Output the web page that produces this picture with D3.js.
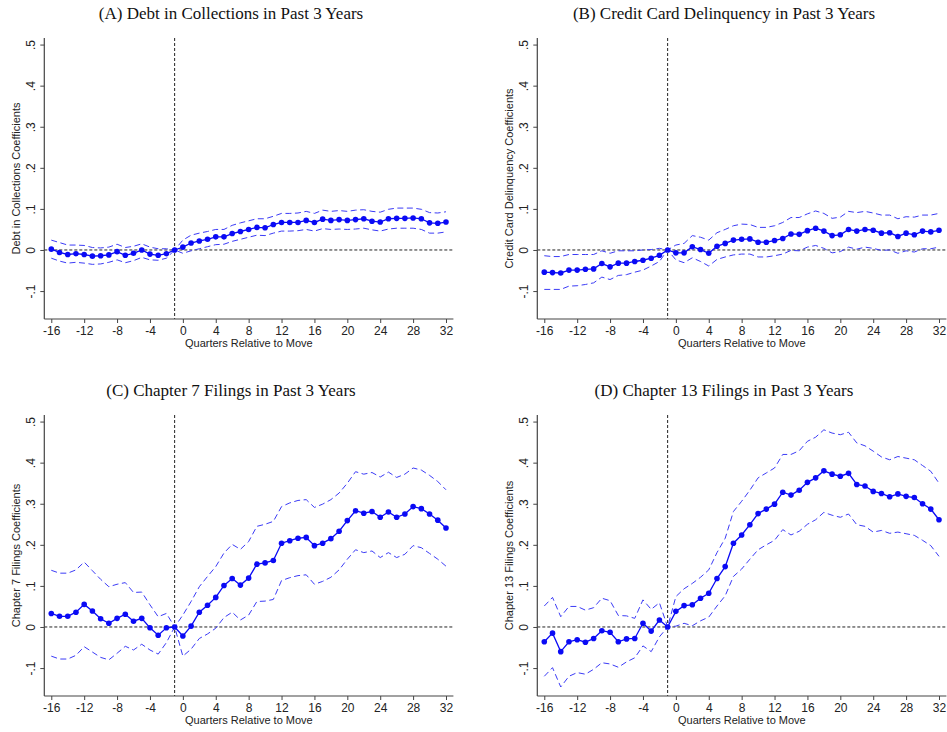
<!DOCTYPE html>
<html>
<head>
<meta charset="utf-8">
<script src="https://cdn.jsdelivr.net/npm/d3@7"></script>
<style>
  html, body { margin: 0; padding: 0; background: #fff; }
  svg { display: block; }
  .title { font-family: "Liberation Serif", "DejaVu Serif", serif; font-size: 17px; fill: #111; }
  .tick text, .axis-label { font-family: "Liberation Sans", Arial, sans-serif; fill: #222; }
</style>
</head>
<body>
<svg id="chart" width="947" height="732"></svg>
<script>
// Event-study quarters relative to the move
const quarters = d3.range(-16, 33);
const xTicks = d3.range(-16, 33, 4);
const yTicks = [-0.1, 0, 0.1, 0.2, 0.3, 0.4, 0.5];

// (A) Debt in collections
const collCoef = [0.002,-0.006,-0.011,-0.009,-0.011,-0.015,-0.014,-0.012,-0.004,-0.013,-0.008,0.000,-0.010,-0.013,-0.009,0,
  0.007,0.017,0.022,0.026,0.032,0.032,0.040,0.045,0.050,0.055,0.054,0.062,0.067,0.067,0.067,0.072,0.067,0.075,0.072,0.074,
  0.072,0.074,0.076,0.070,0.068,0.076,0.077,0.077,0.078,0.076,0.066,0.065,0.068];
const collHi = [0.024,0.018,0.012,0.012,0.011,0.006,0.005,0.007,0.014,0.006,0.009,0.015,0.007,0.003,0.003,0,
  0.024,0.036,0.041,0.045,0.050,0.050,0.060,0.066,0.071,0.076,0.076,0.082,0.089,0.089,0.090,0.094,0.089,0.097,0.094,0.096,
  0.094,0.097,0.098,0.094,0.092,0.099,0.102,0.102,0.102,0.099,0.091,0.090,0.093];
const collLo = [-0.020,-0.027,-0.032,-0.030,-0.032,-0.035,-0.034,-0.030,-0.024,-0.031,-0.026,-0.018,-0.024,-0.025,-0.020,0,
  -0.008,-0.002,0.003,0.008,0.013,0.014,0.021,0.026,0.031,0.036,0.035,0.041,0.046,0.046,0.047,0.050,0.046,0.052,0.050,0.051,
  0.050,0.051,0.053,0.049,0.046,0.051,0.053,0.053,0.053,0.050,0.041,0.041,0.044];

// (B) Credit card delinquency
const ccCoef = [-0.054,-0.055,-0.056,-0.049,-0.049,-0.047,-0.046,-0.033,-0.041,-0.032,-0.032,-0.028,-0.025,-0.020,-0.013,0,
  -0.007,-0.007,0.008,0.001,-0.008,0.009,0.016,0.024,0.026,0.027,0.019,0.019,0.023,0.028,0.039,0.038,0.047,0.053,0.046,0.035,
  0.037,0.050,0.046,0.050,0.048,0.041,0.042,0.033,0.041,0.037,0.046,0.044,0.048];
const ccHi = [-0.014,-0.016,-0.016,-0.011,-0.011,-0.011,-0.011,-0.002,-0.008,-0.002,-0.002,-0.002,0.000,0.001,0.004,0,
  0.012,0.016,0.035,0.031,0.024,0.042,0.050,0.059,0.063,0.062,0.055,0.055,0.059,0.067,0.079,0.079,0.088,0.095,0.089,0.077,
  0.080,0.094,0.091,0.094,0.090,0.085,0.085,0.076,0.081,0.080,0.085,0.085,0.089];
const ccLo = [-0.096,-0.096,-0.096,-0.088,-0.087,-0.084,-0.080,-0.066,-0.072,-0.062,-0.060,-0.054,-0.049,-0.039,-0.028,0,
  -0.024,-0.031,-0.019,-0.028,-0.039,-0.023,-0.017,-0.012,-0.010,-0.010,-0.017,-0.017,-0.014,-0.010,-0.001,-0.002,0.007,0.011,0.004,-0.007,
  -0.004,0.007,0.002,0.007,0.004,-0.001,0.000,-0.008,-0.002,-0.005,0.003,0.003,0.007];

// (C) Chapter 7 filings
const ch7Coef = [0.033,0.026,0.026,0.036,0.055,0.039,0.020,0.009,0.021,0.031,0.014,0.021,-0.002,-0.020,-0.002,0,
  -0.022,0.002,0.036,0.053,0.072,0.101,0.118,0.102,0.119,0.153,0.156,0.162,0.204,0.210,0.216,0.218,0.198,0.204,0.215,0.233,
  0.259,0.283,0.277,0.281,0.267,0.280,0.267,0.275,0.293,0.288,0.275,0.260,0.241];
const ch7Hi = [0.138,0.131,0.131,0.139,0.158,0.137,0.116,0.098,0.104,0.108,0.084,0.085,0.054,0.025,0.033,0,
  0.029,0.062,0.098,0.123,0.147,0.180,0.201,0.189,0.208,0.245,0.250,0.257,0.293,0.302,0.308,0.310,0.291,0.299,0.310,0.326,
  0.350,0.378,0.372,0.376,0.365,0.377,0.364,0.372,0.387,0.382,0.369,0.354,0.334];
const ch7Lo = [-0.071,-0.078,-0.078,-0.069,-0.048,-0.061,-0.074,-0.080,-0.064,-0.047,-0.056,-0.042,-0.056,-0.066,-0.038,0,
  -0.071,-0.054,-0.028,-0.017,-0.003,0.023,0.036,0.017,0.029,0.062,0.063,0.067,0.113,0.120,0.125,0.127,0.104,0.111,0.121,0.139,
  0.165,0.188,0.181,0.185,0.169,0.181,0.169,0.177,0.198,0.193,0.179,0.165,0.148];

// (D) Chapter 13 filings
const ch13Coef = [-0.036,-0.015,-0.060,-0.036,-0.031,-0.037,-0.028,-0.009,-0.013,-0.036,-0.029,-0.028,0.009,-0.010,0.017,0,
  0.038,0.052,0.054,0.070,0.082,0.118,0.147,0.204,0.224,0.249,0.276,0.287,0.299,0.328,0.321,0.333,0.352,0.363,0.380,0.372,
  0.367,0.374,0.347,0.343,0.330,0.325,0.317,0.324,0.318,0.315,0.300,0.287,0.261];
const ch13Hi = [0.051,0.072,0.025,0.050,0.050,0.041,0.047,0.070,0.064,0.028,0.027,0.021,0.066,0.043,0.059,0,
  0.074,0.093,0.106,0.121,0.139,0.181,0.216,0.281,0.306,0.333,0.363,0.375,0.387,0.420,0.420,0.429,0.452,0.462,0.480,0.472,
  0.468,0.474,0.448,0.441,0.428,0.414,0.407,0.415,0.411,0.407,0.393,0.379,0.350];
const ch13Lo = [-0.120,-0.099,-0.146,-0.120,-0.111,-0.115,-0.103,-0.087,-0.090,-0.098,-0.085,-0.075,-0.046,-0.060,-0.024,0,
  0.002,0.009,0.003,0.015,0.024,0.051,0.076,0.123,0.141,0.165,0.188,0.200,0.211,0.237,0.224,0.233,0.250,0.261,0.279,0.272,
  0.267,0.275,0.249,0.245,0.231,0.235,0.228,0.231,0.227,0.223,0.211,0.198,0.172];

const panels = [
  { title: "(A) Debt in Collections in Past 3 Years", ylab: "Debt in Collections Coefficients",
    coef: collCoef, lo: collLo, hi: collHi, dx: 0, dy: 0 },
  { title: "(B) Credit Card Delinquency in Past 3 Years", ylab: "Credit Card Delinquency Coefficients",
    coef: ccCoef, lo: ccLo, hi: ccHi, dx: 493, dy: 0 },
  { title: "(C) Chapter 7 Filings in Past 3 Years", ylab: "Chapter 7 Filings Coefficients",
    coef: ch7Coef, lo: ch7Lo, hi: ch7Hi, dx: 0, dy: 377 },
  { title: "(D) Chapter 13 Filings in Past 3 Years", ylab: "Chapter 13 Filings Coefficients",
    coef: ch13Coef, lo: ch13Lo, hi: ch13Hi, dx: 493, dy: 377 }
];

const svg = d3.select("#chart");
const plot = { left: 44.3, right: 453.4, top: 38, bottom: 319 };

const x = d3.scaleLinear().domain([-16.85, 32.9]).range([plot.left, plot.right]);
const y = d3.scaleLinear().domain([-0.168, 0.516]).range([plot.bottom, plot.top]);

// Stata-style labels: ".5", "0", "-.1"
const fmtY = v => {
  if (Math.abs(v) < 1e-9) return "0";
  const s = Math.abs(v).toFixed(1).replace(/^0/, "");
  return (v < 0 ? "-" : "") + s;
};

const BLUE = "#0a0af5";

panels.forEach(p => {
  const g = svg.append("g").attr("transform", `translate(${p.dx},${p.dy})`);

  g.append("text").attr("class", "title")
    .attr("x", 231).attr("y", 18.5).attr("text-anchor", "middle")
    .text(p.title);

  // reference lines: zero and the move quarter
  g.append("line")
    .attr("x1", plot.left).attr("x2", plot.right)
    .attr("y1", y(0)).attr("y2", y(0))
    .attr("stroke", "#222").attr("stroke-width", 1).attr("stroke-dasharray", "3,2");
  g.append("line")
    .attr("x1", x(-1)).attr("x2", x(-1))
    .attr("y1", plot.top).attr("y2", plot.bottom)
    .attr("stroke", "#222").attr("stroke-width", 1).attr("stroke-dasharray", "3,2");

  // y axis
  const yAxis = g.append("g").attr("transform", `translate(${plot.left},0)`)
    .call(d3.axisLeft(y).tickValues(yTicks).tickFormat(fmtY).tickSize(4).tickSizeOuter(0));
  yAxis.select(".domain").attr("stroke", "#444").attr("stroke-width", 1.2)
    .attr("d", `M0,${plot.top}V${plot.bottom}`);
  yAxis.selectAll(".tick line").attr("stroke", "#444");
  yAxis.selectAll(".tick text")
    .attr("font-size", 12)
    .attr("transform", "rotate(-90)")
    .attr("x", 0).attr("y", -13.6).attr("dy", "0.35em")
    .attr("text-anchor", "middle");

  // x axis
  const xAxis = g.append("g").attr("transform", `translate(0,${plot.bottom})`)
    .call(d3.axisBottom(x).tickValues(xTicks).tickSize(4).tickSizeOuter(0));
  xAxis.select(".domain").attr("stroke", "#444").attr("stroke-width", 1.2)
    .attr("d", `M${plot.left},0H${plot.right}`);
  xAxis.selectAll(".tick line").attr("stroke", "#444");
  xAxis.selectAll(".tick text").attr("font-size", 12).attr("y", 7).attr("dy", "0.71em")
    .text(d => d < 0 ? "-" + Math.abs(d) : String(d));

  g.append("text").attr("class", "axis-label")
    .attr("x", (plot.left + plot.right) / 2).attr("y", 347)
    .attr("text-anchor", "middle").attr("font-size", 11)
    .text("Quarters Relative to Move");

  g.append("text").attr("class", "axis-label")
    .attr("transform", `translate(16,${(plot.top + plot.bottom) / 2}) rotate(-90)`)
    .attr("text-anchor", "middle").attr("dy", "0.35em").attr("font-size", 11)
    .text(p.ylab);

  const line = arr => d3.line().x((d, i) => x(quarters[i])).y(d => y(d))(arr);

  // confidence bands
  [p.hi, p.lo].forEach(arr => {
    g.append("path").attr("d", line(arr))
      .attr("fill", "none").attr("stroke", "#3b3bf6").attr("stroke-width", 1)
      .attr("stroke-dasharray", "6,3.5");
  });

  // point estimates
  g.append("path").attr("d", line(p.coef))
    .attr("fill", "none").attr("stroke", BLUE).attr("stroke-width", 1.3);
  g.selectAll("circle.pt").data(p.coef).enter().append("circle")
    .attr("class", "pt")
    .attr("cx", (d, i) => x(quarters[i])).attr("cy", d => y(d))
    .attr("r", 2.8).attr("fill", BLUE);
});
</script>
</body>
</html>
